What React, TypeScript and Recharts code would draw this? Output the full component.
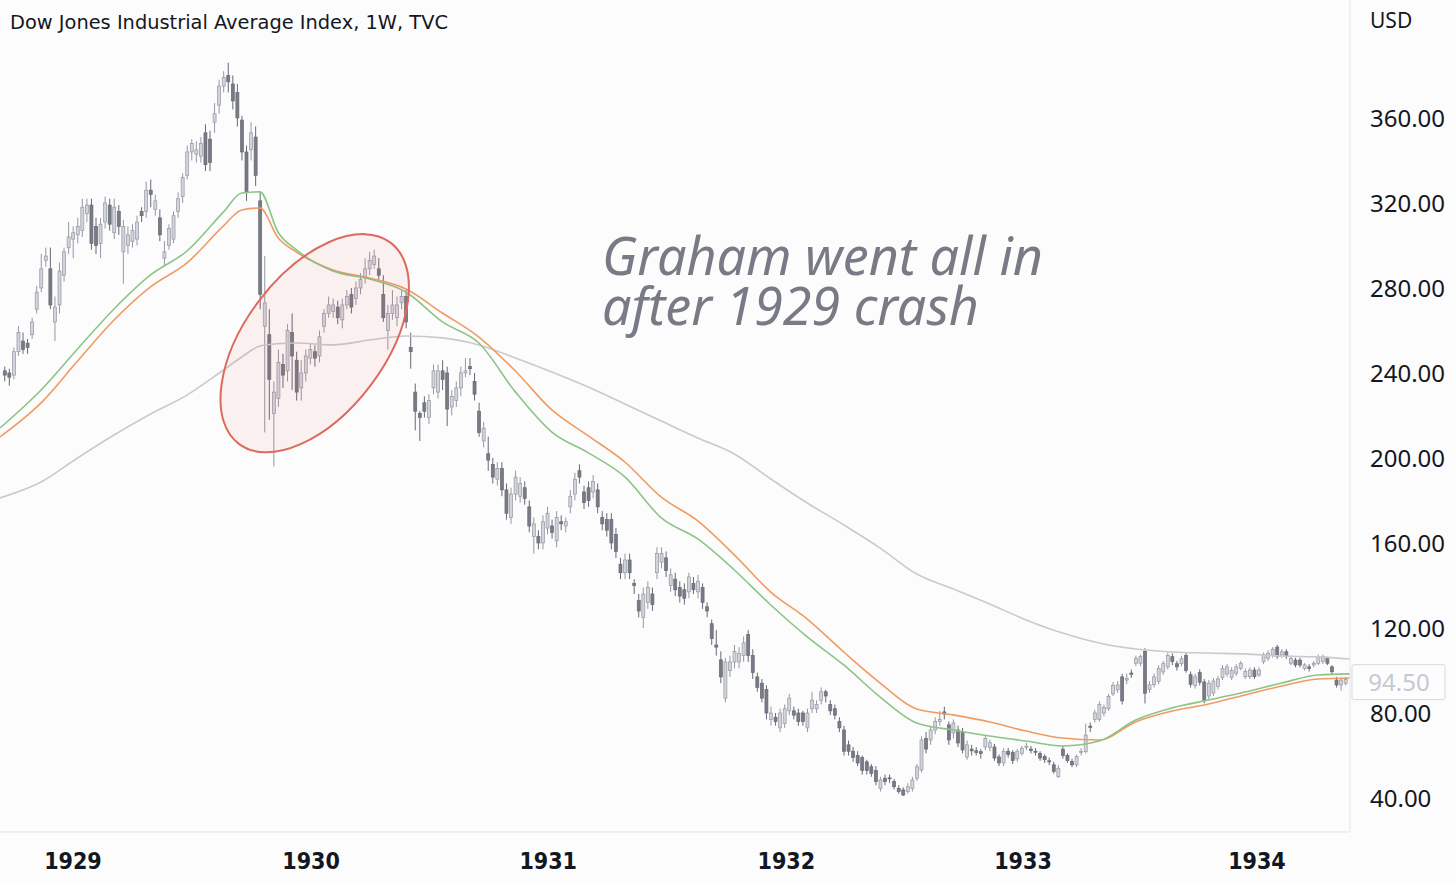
import React from "react";
import { ComposedChart, Bar, Line, XAxis, YAxis, ReferenceDot, ReferenceLine } from "recharts";

const W = 1456;
const H = 884;
const BG = "#fcfcfc";
const TEXT = "#131722";
const AXIS = "#e0e3eb";

// weekly candles, week 0 = Sep 17 1928
const opens = [
  241, 240, 239, 250, 255, 254, 258, 270, 280, 293,
  289, 264, 272, 286, 299, 303, 305, 307, 315, 319,
  309, 301, 311, 319, 306, 316, 297, 300, 302, 303,
  316, 316, 326, 317, 313, 294, 300, 303, 316, 323,
  333, 344, 343, 342, 353, 350, 358, 366, 375, 380,
  376, 372, 359, 344, 345, 351, 321, 262, 258, 221,
  228, 244, 241, 259, 246, 233, 240, 247, 250, 248,
  262, 268, 269, 271, 265, 272, 277, 275, 280, 285,
  289, 291, 289, 277, 260, 268, 266, 273, 276, 252,
  231, 221, 226, 219, 233, 231, 241, 240, 224, 227,
  233, 240, 243, 236, 222, 208, 202, 197, 190, 195,
  185, 172, 183, 182, 186, 177, 163, 163, 160, 167,
  168, 161, 170, 168, 177, 183, 194, 184, 186, 184,
  185, 172, 171, 171, 164, 150, 146, 152, 141, 133,
  125, 132, 136, 146, 151, 153, 140, 143, 139, 138,
  137, 141, 137, 139, 130, 122, 112, 105, 87, 100,
  104, 104, 107, 117, 107, 97, 94, 91, 77, 78,
  73, 75, 81, 81, 80, 80, 73, 82, 82, 86,
  90, 84, 82, 76, 72, 65, 62, 60, 59, 57,
  54.7, 53, 44.5, 49.3, 49.5, 47.7, 44.5, 43.8, 43, 44.5,
  49.3, 53.2, 68, 67.3, 72, 76, 80.5, 74.4, 70.6, 72,
  71, 59.3, 63, 62.2, 61.8, 64, 63.8, 64, 59.3, 56.5,
  62, 61.4, 58.4, 61, 63.8, 63, 62, 61, 59.5, 57.5,
  55.6, 50, 63, 60, 57.2, 55.6, 61.5, 61.8, 73.8, 77,
  77, 80, 82, 89, 90.9, 97, 95.5, 98.8, 103.4, 103.4,
  109, 91, 93.3, 94.9, 99.3, 101.7, 106.5, 103.2, 103.2, 107,
  98, 93, 99, 94.6, 88, 89.4, 92.5, 96.7, 98.4, 96.7,
  98.7, 101, 97.1, 97.1, 100.2, 97.9, 104.2, 105.8, 107.3, 111,
  107.3, 108.8, 103.4, 104.9, 104.9, 100.9, 101.7, 102.6, 103.4, 104.2,
  105.7, 101.7, 95.5, 93.2, 94,
];

const highs = [
  243, 242, 252, 262, 259, 256, 266, 281, 296, 299,
  299, 276, 292, 299, 311, 309, 313, 322, 322, 322,
  313, 313, 323, 322, 322, 319, 312, 309, 310, 314,
  318, 330, 331, 324, 317, 302, 310, 316, 325, 334,
  347, 350, 349, 351, 357, 354, 367, 378, 382, 386,
  380, 376, 361, 347, 358, 356, 325, 295, 270, 236,
  251, 249, 263, 268, 250, 246, 251, 254, 253, 260,
  270, 276, 275, 274, 275, 279, 280, 283, 287, 294,
  297, 298, 294, 286, 272, 279, 276, 279, 279, 259,
  235, 222, 229, 230, 244, 244, 246, 243, 232, 236,
  243, 247, 247, 240, 226, 217, 210, 200, 198, 198,
  188, 186, 194, 191, 189, 180, 172, 166, 173, 177,
  171, 175, 173, 172, 185, 193, 197, 187, 189, 192,
  188, 175, 174, 174, 167, 153, 155, 155, 143, 136,
  139, 142, 139, 158, 158, 156, 148, 146, 142, 141,
  146, 144, 145, 141, 132, 124, 119, 109, 106, 107,
  112, 111, 116, 119, 110, 99, 96, 93, 83, 80,
  82, 84, 89, 83, 82, 81, 82, 90, 86, 92,
  91, 86, 84, 78, 74, 67, 64, 62, 60, 58,
  56, 55, 50, 51, 51, 49, 46, 45, 47, 50,
  56, 69, 71, 74, 78, 81, 83, 76, 77, 74,
  73, 67, 65, 64, 63, 69.5, 67.5, 65.5, 60.5, 63.5,
  63.5, 62.5, 63, 64.5, 66, 64.5, 63.5, 62, 60.5, 59,
  57, 55.5, 64.5, 61, 58.5, 60.5, 63.5, 75, 75.5, 81.5,
  85.5, 84, 89, 94.5, 95, 98.5, 98.5, 100.5, 107, 107.5,
  110.5, 95, 98.5, 102.5, 104.5, 108.5, 108, 104.5, 107, 108.5,
  99.5, 98.5, 100.5, 96, 95.5, 96.5, 97.5, 102.5, 103, 101.5,
  103, 104.5, 101, 101.5, 101.5, 101.5, 108.5, 109.5, 111, 112,
  110, 110, 107, 106, 106, 103.5, 103, 104.5, 107.5, 107.5,
  106.5, 102.5, 97, 96.5, 97,
];

const lows = [
  236, 234, 237, 248, 249, 249, 256, 268, 278, 290,
  270, 255, 268, 283, 296, 294, 301, 304, 311, 298,
  296, 294, 308, 307, 303, 305, 282, 296, 299, 300,
  311, 313, 318, 314, 302, 290, 298, 301, 313, 320,
  331, 340, 339, 339, 335, 335, 353, 362, 372, 372,
  364, 356, 340, 321, 340, 328, 270, 212, 218, 196,
  224, 233, 236, 232, 227, 227, 236, 244, 243, 245,
  259, 266, 266, 263, 261, 270, 268, 272, 277, 282,
  286, 289, 284, 264, 251, 265, 262, 270, 261, 242,
  213, 208, 219, 216, 230, 228, 232, 215, 220, 224,
  229, 238, 239, 227, 210, 205, 194, 188, 187, 182,
  171, 169, 180, 179, 178, 165, 155, 157, 157, 164,
  162, 158, 166, 165, 174, 180, 188, 176, 177, 181,
  174, 166, 163, 157, 153, 143, 143, 143, 136, 125,
  120, 129, 128, 143, 148, 144, 137, 135, 132, 131,
  134, 136, 134, 129, 125, 112, 107, 94, 85, 97,
  101, 101, 104, 104, 96, 90, 85, 77, 74, 74,
  71, 73, 79, 77, 74, 74, 71, 80, 80, 84,
  85, 79, 77, 71, 60, 60, 57, 55, 51, 51,
  50, 46, 43, 46, 47, 44, 42, 41, 42, 43,
  48, 52, 61, 65, 70, 74, 77, 65, 68, 64,
  61, 58, 60, 60, 58.5, 62.5, 62, 57.5, 55, 55,
  59, 56, 57, 60, 62.5, 61, 60, 57.5, 56.5, 55.5,
  51.5, 49.5, 58.5, 56.5, 54.5, 54.5, 60, 61, 71, 75.5,
  76, 78.5, 81, 88, 89.5, 84, 93.5, 96.5, 102, 102,
  84.5, 89.5, 92, 93.5, 98, 100.5, 102.5, 100, 102, 99,
  92, 91.5, 93, 84.5, 86.5, 88, 91, 95.5, 97, 95.5,
  97.5, 100, 96, 96, 96, 97, 103, 104.5, 106, 105.5,
  106, 105.5, 102.5, 101.5, 101.5, 100, 99.5, 101.5, 102.5, 103,
  102.5, 98, 92, 90.5, 93,
];

const closes = [
  239, 238, 250, 259, 251, 252, 264, 278, 289, 295,
  272, 271, 288, 297, 304, 306, 309, 318, 319, 301,
  300, 310, 320, 310, 318, 309, 309, 305, 307, 311,
  314, 326, 324, 321, 305, 297, 308, 314, 322, 332,
  344, 348, 345, 348, 338, 339, 362, 375, 379, 377,
  368, 360, 344, 325, 353, 333, 277, 273, 237, 231,
  245, 239, 260, 248, 231, 240, 248, 251, 247, 257,
  268, 272, 272, 266, 272, 276, 271, 280, 284, 289,
  293, 295, 286, 266, 268, 272, 272, 276, 264, 250,
  222, 219, 222, 227, 241, 241, 237, 223, 229, 233,
  240, 241, 242, 230, 212, 214, 199, 191, 195, 185,
  174, 183, 191, 188, 181, 168, 169, 160, 170, 174,
  165, 172, 169, 170, 182, 190, 191, 179, 180, 189,
  177, 169, 166, 160, 156, 146, 152, 146, 140, 128,
  136, 139, 131, 155, 155, 147, 145, 138, 135, 134,
  144, 138, 142, 132, 128, 115, 111, 97, 104, 104,
  109, 108, 113, 107, 99, 92, 87, 80, 80, 76,
  80, 82, 87, 79, 76, 76, 80, 86, 84, 90,
  88, 81, 79, 73, 62, 62, 59, 56.5, 53, 53,
  51.6, 47.7, 48.5, 47.7, 49, 45.3, 43, 41.4, 45.3, 48.5,
  54.7, 67.3, 63, 72, 76, 77, 79.5, 67.3, 75.3, 65.9,
  62.6, 65, 62.2, 61.4, 61, 68, 66, 58.8, 56.5, 62,
  60.5, 57.6, 62, 63.4, 64.4, 62.4, 61.6, 58.8, 58, 57,
  52.5, 54, 60, 57.6, 55.6, 59.5, 62, 69.6, 73.2, 80,
  84, 82.6, 87.7, 93, 93.2, 85.7, 96.2, 98.2, 105.7, 106.5,
  89.3, 93.3, 97, 101, 103.2, 107, 104.2, 101.7, 105.5, 100,
  93.5, 97, 94.5, 86, 94, 95, 96, 101, 101.7, 100,
  101.7, 103.4, 99.5, 100.2, 97.1, 100.2, 107.4, 108, 110, 106.5,
  108.8, 106.5, 105.7, 102.6, 102.6, 102.6, 100.9, 103.4, 106.5, 106.5,
  103.4, 99.4, 93.2, 95.5, 95.8,
];

const maWeeks = [
  -1, 8, 16, 24, 32, 40, 48, 52, 56, 60, 64, 72, 80, 88, 96, 104, 112, 120, 128, 136,
  144, 152, 160, 168, 176, 184, 192, 200, 208, 216, 224, 232, 240, 248, 256, 264, 272, 280, 288, 295,
];
const emaFast = [
  214.1, 232.0, 251.3, 270.1, 286.1, 297.4, 315.8, 324.7, 325.2, 306.1, 297.9, 288.0, 284.2, 278.1, 264.0, 254.1, 231.1, 212.2, 202.4, 191.1,
  171.8, 161.9, 147.3, 130.8, 115.8, 102.6, 87.5, 75.3, 72.0, 69.2, 66.8, 64.5, 66.8, 76.7, 82.4, 86.1, 89.9, 94.1, 97.9, 98.4,
];
const emaSlow = [
  209.9, 225.9, 245.6, 264.9, 280.5, 291.8, 309.2, 316.7, 317.6, 303.5, 296.9, 288.5, 284.7, 279.5, 268.2, 256.9, 240.9, 222.6, 210.4, 198.1,
  181.6, 170.4, 154.4, 136.9, 124.2, 108.7, 94.1, 81.9, 79.1, 75.8, 71.5, 68.2, 67.3, 75.8, 80.9, 84.2, 88.5, 92.7, 96.0, 96.5,
];
const smaLong = [
  181.2, 188.7, 200.0, 210.8, 220.7, 229.6, 241.4, 247.5, 252.7, 253.8, 254.1, 253.2, 255.5, 257.4, 256.5, 253.2, 247.1, 240.5, 233.4, 225.4,
  217.4, 209.4, 201.9, 190.1, 178.8, 168.5, 157.6, 145.4, 138.4, 131.3, 123.8, 117.6, 112.9, 110.1, 108.7, 108.2, 107.8, 106.8, 106.4, 105.4,
];

const yearTicks = [15.0, 67.2, 119.2, 171.4, 223.3, 274.6];
const yearLabels = ["1929", "1930", "1931", "1932", "1933", "1934"];
const priceTicks = [40, 80, 120, 160, 200, 240, 280, 320, 360];
const lastPrice = 94.5;

const rows = opens.map((o, i) => ({
  i,
  o,
  h: highs[i],
  l: lows[i],
  c: closes[i],
  range: [lows[i], highs[i]],
}));
const maSeries = (vals: number[]) => maWeeks.map((w, k) => ({ i: w, v: vals[k] }));

const UP_FILL = "#d1d4dc";
const UP_LINE = "#9598a1";
const DOWN_FILL = "#787b86";
const DOWN_LINE = "#676a75";

const Candle = (props: any) => {
  const { x, y, width, height, payload } = props;
  if (!payload || height == null) return null;
  const { o, h, l, c } = payload;
  const py = (v: number) => y + ((h - v) / (h - l)) * height;
  const cx = x + width / 2;
  const up = c >= o;
  const top = py(Math.max(o, c));
  const bot = py(Math.min(o, c));
  return (
    <g>
      <line x1={cx} x2={cx} y1={y} y2={y + height} stroke={up ? UP_LINE : DOWN_LINE} strokeWidth={1} />
      <rect
        x={cx - 1.5}
        y={top}
        width={3}
        height={Math.max(1, bot - top)}
        fill={up ? UP_FILL : DOWN_FILL}
        stroke={up ? UP_LINE : DOWN_LINE}
        strokeWidth={0.7}
      />
    </g>
  );
};

const Ellipse = (props: any) => (
  <ellipse
    cx={props.cx}
    cy={props.cy}
    rx={126}
    ry={70}
    transform={`rotate(-53 ${props.cx} ${props.cy})`}
    fill="rgba(226, 90, 90, 0.07)"
    stroke="#dd6a5e"
    strokeWidth={2}
  />
);

const PriceTag = (props: any) => {
  const vb = props.viewBox || {};
  const x = vb.x + vb.width + 2;
  const y = vb.y;
  return (
    <g>
      <rect x={x} y={y - 17.5} width={93} height={35} rx={2} fill="#fdfdfd" stroke="#d6d9e0" />
      <text x={x + 47} y={y} dy={9} textAnchor="middle" fontSize={24} fill="#c6c9d1" fontFamily="'Noto Sans', sans-serif">
        {lastPrice.toFixed(2)}
      </text>
    </g>
  );
};

export default function App() {
  return (
    <div style={{ position: "absolute", left: 0, top: 0, width: W, height: H, background: BG, overflow: "hidden" }}>
      <ComposedChart width={W} height={H} data={rows} margin={{ top: 0, right: 0, bottom: 0, left: 0 }}>
        <XAxis
          dataKey="i"
          type="number"
          domain={[-1, 295]}
          allowDataOverflow
          ticks={yearTicks}
          interval={0}
          height={52}
          axisLine={{ stroke: AXIS }}
          tickLine={false}
          tickSize={0}
          tickMargin={0}
          tick={(p: any) => (
            <text
              x={p.x}
              y={p.y}
              dy={37}
              textAnchor="middle"
              fontSize={23}
              fontWeight={600}
              fill={TEXT}
              fontFamily="'Liberation Sans Narrow', 'DejaVu Sans Condensed', 'Noto Sans', sans-serif"
            >
              {yearLabels[p.index]}
            </text>
          )}
        />
        <YAxis
          orientation="right"
          width={106}
          domain={[24, 415.5]}
          allowDataOverflow
          ticks={priceTicks}
          interval={0}
          axisLine={{ stroke: AXIS }}
          tickLine={false}
          tickSize={0}
          tickMargin={20}
          tick={(p: any) => (
            <text x={p.x} y={p.y} dy={9} textAnchor="start" fontSize={24} fill={TEXT} fontFamily="'Noto Sans', sans-serif">
              {Number(p.payload.value).toFixed(2)}
            </text>
          )}
        />
        <Line data={maSeries(smaLong)} dataKey="v" type="monotone" stroke="#cacaca" strokeWidth={1.6} dot={false} activeDot={false} isAnimationActive={false} />
        <Line data={maSeries(emaSlow)} dataKey="v" type="monotone" stroke="#ef9c62" strokeWidth={1.6} dot={false} activeDot={false} isAnimationActive={false} />
        <Line data={maSeries(emaFast)} dataKey="v" type="monotone" stroke="#8cc489" strokeWidth={1.6} dot={false} activeDot={false} isAnimationActive={false} />
        <Bar dataKey="range" barSize={3} shape={Candle} isAnimationActive={false} />
        <ReferenceDot x={68} y={254} r={1} shape={Ellipse} ifOverflow="visible" />
        <ReferenceLine y={lastPrice} stroke="none" label={PriceTag} />
      </ComposedChart>
      <svg width={W} height={H} style={{ position: "absolute", left: 0, top: 0, pointerEvents: "none" }}>
        <text x={10} y={29} fontSize={19.4} fill={TEXT} fontFamily="'DejaVu Sans', sans-serif">
          Dow Jones Industrial Average Index, 1W, TVC
        </text>
        <text x={1370} y={28} fontSize={21} fill={TEXT} fontFamily="'Noto Sans', sans-serif">
          USD
        </text>
        <g fontSize={52} fontStyle="italic" fill="#787b86" fontFamily="'Noto Sans', sans-serif">
          <text x={602} y={275}>Graham went all in</text>
          <text x={602} y={325}>after 1929 crash</text>
        </g>
      </svg>
    </div>
  );
}
